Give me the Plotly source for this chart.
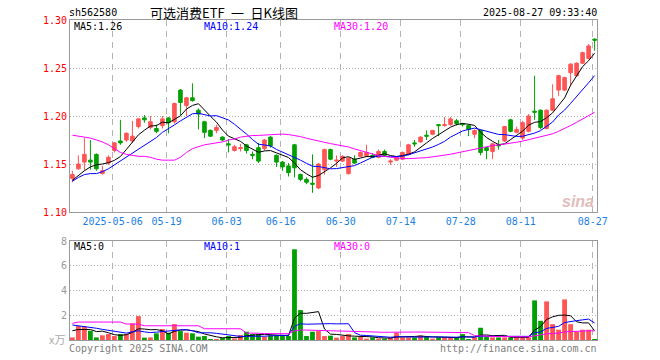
import math
import plotly.graph_objects as go
import pandas as pd

# ---------------- data ----------------
start_date = "2025-04-22"
end_date = "2025-08-27"
holidays = ["2025-05-01", "2025-05-02", "2025-05-05", "2025-06-02"]

tick_dates = ["2025-05-06", "2025-05-19", "2025-06-03", "2025-06-16", "2025-06-30",
              "2025-07-14", "2025-07-28", "2025-08-11", "2025-08-27"]
tick_labels = ["2025-05-06", "05-19", "06-03", "06-16", "06-30",
               "07-14", "07-28", "08-11", "08-27"]

opens = [1.135, 1.145, 1.152, 1.154, 1.160, 1.140, 1.151, 1.164, 1.174, 1.175,
         1.174, 1.189, 1.198, 1.188, 1.187, 1.190, 1.198, 1.194, 1.227, 1.211,
         1.219, 1.206, 1.194, 1.185, 1.185, 1.178, 1.171, 1.164, 1.166, 1.170,
         1.160, 1.167, 1.166, 1.178, 1.159, 1.152, 1.148, 1.170, 1.139, 1.134,
         1.130, 1.125, 1.144, 1.165, 1.153, 1.153, 1.140, 1.155, 1.158, 1.158,
         1.159, 1.157, 1.163, 1.152, 1.154, 1.155, 1.160, 1.172, 1.173, 1.180,
         1.181, 1.191, 1.190, 1.191, 1.195, 1.192, 1.190, 1.181, 1.185, 1.167,
         1.163, 1.170, 1.174, 1.196, 1.183, 1.177, 1.184, 1.205, 1.206, 1.187,
         1.206, 1.227, 1.227, 1.245, 1.242, 1.255, 1.260, 1.280]
highs = [1.143, 1.159, 1.177, 1.175, 1.161, 1.148, 1.159, 1.173, 1.196, 1.183,
         1.195, 1.198, 1.201, 1.200, 1.191, 1.200, 1.199, 1.214, 1.228, 1.220,
         1.234, 1.208, 1.195, 1.186, 1.191, 1.179, 1.176, 1.170, 1.171, 1.171,
         1.163, 1.172, 1.176, 1.179, 1.160, 1.153, 1.151, 1.171, 1.140, 1.136,
         1.160, 1.151, 1.166, 1.166, 1.159, 1.159, 1.157, 1.159, 1.163, 1.170,
         1.161, 1.165, 1.165, 1.155, 1.158, 1.163, 1.171, 1.175, 1.179, 1.185,
         1.185, 1.191, 1.199, 1.199, 1.197, 1.193, 1.191, 1.186, 1.186, 1.168,
         1.172, 1.175, 1.189, 1.197, 1.189, 1.195, 1.202, 1.242, 1.207, 1.207,
         1.233, 1.243, 1.241, 1.255, 1.256, 1.267, 1.275, 1.281]
lows = [1.131, 1.144, 1.143, 1.144, 1.143, 1.139, 1.149, 1.162, 1.170, 1.173,
        1.172, 1.187, 1.193, 1.186, 1.182, 1.187, 1.182, 1.192, 1.201, 1.200,
        1.215, 1.186, 1.177, 1.178, 1.182, 1.174, 1.162, 1.163, 1.163, 1.161,
        1.155, 1.151, 1.164, 1.167, 1.147, 1.143, 1.137, 1.136, 1.132, 1.129,
        1.120, 1.124, 1.139, 1.154, 1.147, 1.152, 1.139, 1.150, 1.157, 1.157,
        1.157, 1.156, 1.158, 1.149, 1.153, 1.154, 1.159, 1.168, 1.172, 1.175,
        1.180, 1.179, 1.189, 1.190, 1.190, 1.189, 1.179, 1.177, 1.159, 1.155,
        1.155, 1.165, 1.173, 1.183, 1.182, 1.175, 1.183, 1.196, 1.186, 1.186,
        1.205, 1.221, 1.226, 1.231, 1.241, 1.254, 1.259, 1.268]
closes = [1.139, 1.150, 1.160, 1.152, 1.145, 1.143, 1.157, 1.172, 1.172, 1.182,
          1.179, 1.197, 1.196, 1.194, 1.184, 1.197, 1.193, 1.213, 1.214, 1.219,
          1.216, 1.202, 1.183, 1.179, 1.188, 1.175, 1.170, 1.168, 1.167, 1.164,
          1.159, 1.153, 1.175, 1.169, 1.152, 1.147, 1.141, 1.146, 1.134, 1.131,
          1.129, 1.150, 1.165, 1.155, 1.154, 1.158, 1.156, 1.151, 1.162, 1.162,
          1.157, 1.163, 1.159, 1.153, 1.157, 1.162, 1.170, 1.171, 1.178, 1.179,
          1.185, 1.190, 1.191, 1.197, 1.192, 1.191, 1.186, 1.185, 1.162, 1.164,
          1.171, 1.169, 1.189, 1.184, 1.186, 1.193, 1.200, 1.204, 1.188, 1.206,
          1.218, 1.242, 1.240, 1.254, 1.255, 1.266, 1.273, 1.279]
volumes = [0.21, 1.13, 1.10, 0.75, 0.21, 0.38, 0.48, 0.32, 0.48, 0.48,
           1.34, 1.93, 0.19, 0.21, 0.54, 0.89, 0.59, 1.29, 0.72, 0.59,
           0.54, 0.27, 0.32, 0.08, 0.08, 0.16, 0.32, 0.13, 0.40, 0.67,
           0.48, 0.48, 0.27, 0.38, 0.38, 0.38, 0.32, 7.33, 2.42, 0.32,
           0.67, 0.72, 0.32, 0.35, 0.19, 0.32, 0.48, 0.21, 0.27, 0.11,
           0.21, 0.11, 0.11, 0.21, 0.59, 0.21, 0.21, 0.21, 0.37, 0.32,
           0.11, 0.21, 0.21, 0.21, 0.21, 0.48, 0.08, 0.21, 0.99, 0.27,
           0.21, 0.21, 0.21, 0.21, 0.21, 0.21, 0.21, 3.20, 1.55, 3.12,
           1.28, 0.83, 3.28, 1.28, 0.69, 0.83, 0.83, 0.08]

# moving-average values for days before a full window exists
ma5_head = [1.133, 1.138, 1.143, 1.147]
ma10_head = [1.132, 1.136, 1.139, 1.140, 1.140, 1.142, 1.145, 1.149, 1.153]
ma30_head = [1.180, 1.179, 1.178, 1.177, 1.175, 1.173, 1.170, 1.166, 1.162, 1.160,
             1.159, 1.158, 1.158, 1.157, 1.155, 1.154, 1.154, 1.154, 1.157, 1.162,
             1.166, 1.168, 1.170, 1.171, 1.172, 1.173, 1.175, 1.176, 1.178]
vma5_head = [0.75, 0.85, 0.85, 0.85]
vma10_head = [1.21, 1.15, 1.08, 1.05, 0.95, 0.86, 0.78, 0.70, 0.67]
vma30_head = [1.34, 1.45, 1.45, 1.45, 1.45, 1.45, 1.45, 1.45, 1.45, 1.29,
              1.29, 1.29, 1.15, 1.15, 1.15, 1.15, 1.15, 1.15, 1.15, 1.15,
              1.15, 1.15, 0.91, 0.91, 0.91, 0.91, 0.91, 0.91, 0.91]

# ---------------- helpers ----------------
def moving_avg(vals, n, head):
    out = list(head)
    for i in range(len(head), len(vals)):
        w = vals[i - n + 1:i + 1]
        out.append(sum(w) / n)
    return out

def trunc2(v):
    return f"{math.floor(v * 100 + 1e-9) / 100:.2f}"

dates = pd.bdate_range(start_date, end_date, freq="C", holidays=holidays)
N = len(dates)
x = list(range(N))
date_index = {d.strftime("%Y-%m-%d"): i for i, d in enumerate(dates)}
tickvals = [date_index[d] - 0.3 for d in tick_dates]

ma5 = moving_avg(closes, 5, ma5_head)
ma10 = moving_avg(closes, 10, ma10_head)
ma30 = moving_avg(closes, 30, ma30_head)
vma5 = moving_avg(volumes, 5, vma5_head)
vma10 = moving_avg(volumes, 10, vma10_head)
vma30 = moving_avg(volumes, 30, vma30_head)

RED = "#ff5555"
GREEN = "#00a000"
vol_colors = [RED if c >= o else GREEN for o, c in zip(opens, closes)]

W, H = 660, 360
L, R, T, B = 70, 63, 20, 20
PW, PH = W - L - R, H - T - B

def px(xp):
    return (xp - L) / PW

def py(yp):
    return (H - B - yp) / PH

MONO = "DejaVu Sans Mono"
CJK = "Noto Sans CJK SC"

fig = go.Figure()
fig.add_trace(go.Candlestick(
    x=x, open=opens, high=highs, low=lows, close=closes,
    increasing=dict(line=dict(color=RED, width=1), fillcolor=RED),
    decreasing=dict(line=dict(color=GREEN, width=1), fillcolor=GREEN),
    whiskerwidth=0, xaxis="x", yaxis="y", hoverinfo="skip"))
for vals, col in [(ma5, "#000000"), (ma10, "#0000ff"), (ma30, "#ff00ff")]:
    fig.add_trace(go.Scatter(x=x, y=vals, mode="lines",
                             line=dict(color=col, width=1), xaxis="x", yaxis="y",
                             hoverinfo="skip"))
fig.add_trace(go.Bar(x=x, y=volumes, marker=dict(color=vol_colors, line=dict(width=0)),
                     width=0.8, xaxis="x2", yaxis="y2", hoverinfo="skip"))
for vals, col in [(vma5, "#000000"), (vma10, "#0000ff"), (vma30, "#ff00ff")]:
    fig.add_trace(go.Scatter(x=x, y=vals, mode="lines",
                             line=dict(color=col, width=1), xaxis="x2", yaxis="y2",
                             hoverinfo="skip"))

GRID = "#b4b4b4"
BORDER = "#999999"
xr = [-0.4, N - 0.6]

fig.update_layout(
    width=W, height=H, autosize=False,
    margin=dict(l=L, r=R, t=T, b=B, pad=0, autoexpand=False),
    paper_bgcolor="white", plot_bgcolor="white",
    showlegend=False, boxgap=0.15,
    xaxis=dict(domain=[0, 1], anchor="y", range=xr, tickmode="array",
               tickvals=tickvals, ticktext=tick_labels, ticks="", automargin=False,
               tickfont=dict(family=MONO, size=10, color="#1a7fe0"),
               showgrid=True, gridcolor=GRID, griddash="6px,5px", gridwidth=1,
               showline=True, mirror=True, linecolor=BORDER, linewidth=1,
               zeroline=False, rangeslider=dict(visible=False), fixedrange=True),
    yaxis=dict(domain=[py(212), 1], anchor="x", range=[1.10, 1.30],
               tickmode="array", tickvals=[1.10, 1.15, 1.20, 1.25, 1.30],
               ticktext=["1.10", "1.15", "1.20", "1.25", "1.30"], ticks="",
               automargin=False,
               tickfont=dict(family=MONO, size=10, color="#ff0000"),
               showgrid=True, gridcolor=GRID, griddash="1px,2px", gridwidth=1,
               showline=True, mirror=True, linecolor=BORDER, linewidth=1,
               zeroline=False, fixedrange=True),
    xaxis2=dict(domain=[0, 1], anchor="y2", range=xr, matches="x", tickmode="array",
                tickvals=tickvals, showticklabels=False, ticks="", automargin=False,
                showgrid=True, gridcolor=GRID, griddash="6px,5px", gridwidth=1,
                showline=True, mirror=True, linecolor=BORDER, linewidth=1,
                zeroline=False, fixedrange=True),
    yaxis2=dict(domain=[0, py(241)], anchor="x2", range=[0, 8],
                tickmode="array", tickvals=[2, 4, 6, 8], ticktext=["2", "4", "6", "8"],
                ticks="", automargin=False,
                tickfont=dict(family=MONO, size=10, color="#999999"),
                showgrid=True, gridcolor=GRID, griddash="1px,2px", gridwidth=1,
                showline=True, mirror=True, linecolor=BORDER, linewidth=1,
                zeroline=False, fixedrange=True),
)

def ann(text, xp, yp, anchor="left", color="#000000", size=10, family=MONO):
    fig.add_annotation(text=text, x=px(xp), y=py(yp), xref="paper", yref="paper",
                       xanchor=anchor, yanchor="middle", showarrow=False,
                       font=dict(family=family, size=size, color=color),
                       borderpad=0)

ann("sh562580", 68, 13)
ann("可选消费ETF\u2002一\u2002日K线图", 224, 12, anchor="center", size=13, family=CJK)
ann("2025-08-27 09:33:40", 598, 13, anchor="right")
ann(f"MA5:{trunc2(ma5[-1])}", 73, 27)
ann(f"MA10:{trunc2(ma10[-1])}", 203, 27, color="#0000ff")
ann(f"MA30:{trunc2(ma30[-1])}", 333, 27, color="#ff00ff")
ann(f"MA5:{int(vma5[-1])}", 73, 246)
ann(f"MA10:{int(vma10[-1])}", 203, 246, color="#0000ff")
ann(f"MA30:{int(vma30[-1])}", 333, 246, color="#ff00ff")
ann("x万", 66, 339, anchor="right", color="#aaaaaa", size=11, family=CJK)
ann("Copyright 2025 SINA.COM", 68, 348, color="#808080")
ann("http://finance.sina.com.cn", 598, 348, anchor="right", color="#808080")
ann("<b><i>sina</i></b>", 578, 201, anchor="center", color="#e2bcbc", size=16,
    family="Liberation Sans")

fig.write_html("out.html", config={"displayModeBar": False, "staticPlot": True},
               post_script="document.body.style.margin='0';document.body.style.overflow='hidden';")
